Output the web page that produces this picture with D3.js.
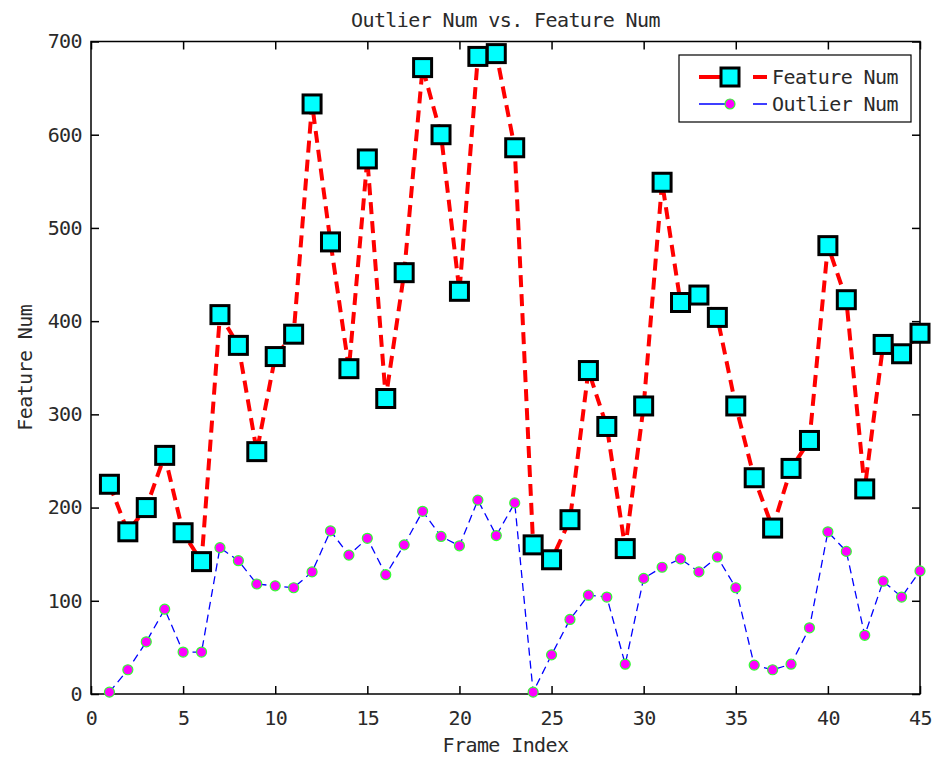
<!DOCTYPE html>
<html>
<head>
<meta charset="utf-8">
<script src="https://cdn.jsdelivr.net/npm/d3@7/dist/d3.min.js"></script>
<style>
  body { margin: 0; background: #fff; }
  text { font-family: "DejaVu Sans Mono", monospace; font-size: 20px; letter-spacing: -0.6px; fill: #2a2a2a; }
</style>
</head>
<body>
<div id="chart"></div>
<script>
// frame index 1..45
var frames = d3.range(1, 46);

var featureNum = [225, 174, 200, 256, 173, 142, 407, 374, 260, 362,
                  386, 633, 485, 349, 574, 317, 452, 672, 600, 432,
                  684, 687, 586, 160, 144, 187, 347, 287, 156, 309,
                  549, 420, 428, 404, 309, 232, 178, 242, 272, 481,
                  423, 220, 375, 365, 387];

var outlierNum = [2, 26, 56, 91, 45, 45, 157, 143, 118, 116,
                  114, 131, 175, 149, 167, 128, 160, 196, 169, 159,
                  208, 170, 205, 2, 42, 80, 106, 104, 32, 124,
                  136, 145, 131, 147, 114, 31, 26, 32, 71, 174,
                  153, 63, 121, 104, 132];

var xTicks = [0, 5, 10, 15, 20, 25, 30, 35, 40, 45];
var yTicks = [0, 100, 200, 300, 400, 500, 600, 700];

var svgwidth = 937,
    svgheight = 758,
    margin = {top: 41.5, right: 17, bottom: 64, left: 91};

var width = svgwidth - margin.left - margin.right,
    height = svgheight - margin.top - margin.bottom;

var svg = d3.select('#chart')
    .append('svg')
    .attr('width', svgwidth)
    .attr('height', svgheight);

var g = svg.append("g").attr("transform", "translate(" + margin.left + "," + margin.top + ")");

var x = d3.scaleLinear().domain([0, 45]).range([0, width]),
    y = d3.scaleLinear().domain([0, 700]).range([height, 0]);

// axes, ticks inward on all four sides
function styleAxis(sel) {
  sel.select(".domain").remove();
  sel.selectAll("line").attr("stroke", "#000").attr("stroke-width", 1.5);
  sel.attr("font-family", null).attr("font-size", null);
}

g.append("g")
    .attr("transform", "translate(0," + height + ")")
    .call(d3.axisBottom(x).tickValues(xTicks).tickSizeInner(-8).tickPadding(13).tickFormat(d3.format("d")))
    .call(styleAxis)
    .selectAll("text").attr("dy", "0.9em");

g.append("g")
    .call(d3.axisTop(x).tickValues(xTicks).tickSizeInner(-8).tickFormat(""))
    .call(styleAxis);

g.append("g")
    .call(d3.axisLeft(y).tickValues(yTicks).tickSizeInner(-8).tickPadding(9).tickFormat(d3.format("d")))
    .call(styleAxis);

g.append("g")
    .attr("transform", "translate(" + width + ",0)")
    .call(d3.axisRight(y).tickValues(yTicks).tickSizeInner(-8).tickFormat(""))
    .call(styleAxis);

g.append("rect")
    .attr("width", width)
    .attr("height", height)
    .attr("fill", "none")
    .attr("stroke", "#000")
    .attr("stroke-width", 1.5);

var featureData = frames.map(function(f, i) { return {x: f, y: featureNum[i]}; });
var outlierData = frames.map(function(f, i) { return {x: f, y: outlierNum[i]}; });

var line = d3.line()
    .x(function(d) { return x(d.x); })
    .y(function(d) { return y(d.y); });

// Feature Num
g.append("path")
    .datum(featureData)
    .attr("d", line)
    .attr("fill", "none")
    .attr("stroke", "#ff0000")
    .attr("stroke-width", 4)
    .attr("stroke-dasharray", "12,7");

g.selectAll(".sq")
    .data(featureData)
  .enter().append("rect")
    .attr("class", "sq")
    .attr("x", function(d) { return x(d.x) - 9; })
    .attr("y", function(d) { return y(d.y) - 9; })
    .attr("width", 18)
    .attr("height", 18)
    .attr("fill", "#00ffff")
    .attr("stroke", "#000")
    .attr("stroke-width", 3);

// Outlier Num
g.append("path")
    .datum(outlierData)
    .attr("d", line)
    .attr("fill", "none")
    .attr("stroke", "#0000ff")
    .attr("stroke-width", 1.3)
    .attr("stroke-dasharray", "8,5");

g.selectAll(".dot")
    .data(outlierData)
  .enter().append("circle")
    .attr("class", "dot")
    .attr("cx", function(d) { return x(d.x); })
    .attr("cy", function(d) { return y(d.y); })
    .attr("r", 5)
    .attr("fill", "#ff00ff")
    .attr("stroke", "#33ff33")
    .attr("stroke-width", 1.2);

// title + labels
svg.append("text")
    .attr("x", margin.left + width / 2)
    .attr("y", 27)
    .attr("text-anchor", "middle")
    .text("Outlier Num vs. Feature Num");

svg.append("text")
    .attr("x", margin.left + width / 2)
    .attr("y", 752)
    .attr("text-anchor", "middle")
    .text("Frame Index");

svg.append("text")
    .attr("transform", "translate(32," + (margin.top + height / 2) + ") rotate(-90)")
    .attr("text-anchor", "middle")
    .text("Feature Num");

// legend
var legend = svg.append("g").attr("transform", "translate(679,55)");

legend.append("rect")
    .attr("width", 232)
    .attr("height", 67)
    .attr("fill", "#fff")
    .attr("stroke", "#000")
    .attr("stroke-width", 1.2);

var items = [
  {name: "Feature Num", color: "#ff0000", w: 4, marker: "square", cy: 22},
  {name: "Outlier Num", color: "#0000ff", w: 1.3, marker: "circle", cy: 49}
];

items.forEach(function(it) {
  legend.append("line")
      .attr("x1", 20).attr("x2", 88)
      .attr("y1", it.cy).attr("y2", it.cy)
      .attr("stroke", it.color)
      .attr("stroke-width", it.w)
      .attr("stroke-dasharray", "36,18,14");
  if (it.marker === "square") {
    legend.append("rect")
        .attr("x", 51 - 9).attr("y", it.cy - 9)
        .attr("width", 18).attr("height", 18)
        .attr("fill", "#00ffff").attr("stroke", "#000").attr("stroke-width", 3);
  } else {
    legend.append("circle")
        .attr("cx", 51).attr("cy", it.cy).attr("r", 5)
        .attr("fill", "#ff00ff").attr("stroke", "#33ff33").attr("stroke-width", 1.2);
  }
  legend.append("text")
      .attr("x", 93)
      .attr("y", it.cy + 7)
      .text(it.name);
});
</script>
</body>
</html>
